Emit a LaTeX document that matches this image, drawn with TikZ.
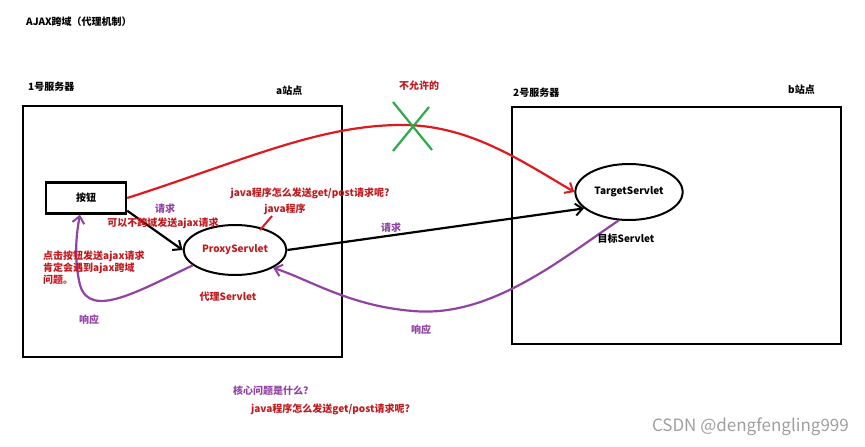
\documentclass[tikz,border=0pt]{standalone}
\usepackage{fontspec}
\setmainfont{Noto Sans CJK SC}
\usepackage{xcolor}
\usepackage{tikz}
\usetikzlibrary{arrows.meta,positioning,shapes.geometric}
\definecolor{redline}{HTML}{E0191F}
\definecolor{redtext}{HTML}{C01A1F}
\definecolor{purp}{HTML}{9143A3}
\definecolor{grn}{HTML}{2DAA4A}

\begin{document}
\begin{tikzpicture}[x=1pt,y=-1pt,font=\fontsize{10}{12}\selectfont\bfseries,
  server/.style={draw,line width=2pt},
  btn/.style={draw,line width=2.4pt,minimum width=80pt,minimum height=31pt},
  servlet/.style={draw,ellipse,line width=2pt},
  lbl/.style={inner sep=1pt},
  rlbl/.style={lbl,text=redtext},
  plbl/.style={lbl,text=purp},
  arr/.style={-{Straight Barb[length=7pt,width=12pt,line width=2pt]},line width=2.2pt}]
\useasboundingbox (0,0) rectangle (865,447);
% titles
\node[lbl,anchor=west] (title) at (25,22) {AJAX跨域（代理机制）};
\node[lbl,anchor=west] (srv1) at (27,87) {1号服务器};
\node[lbl,anchor=west] (siteA) at (275,91) {a站点};
\node[lbl,anchor=west] (srv2) at (512,93) {2号服务器};
\node[lbl,anchor=west] (siteB) at (787,90) {b站点};
% servers
\draw[server] (23,106) rectangle (342,357);
\draw[server] (512,107) rectangle (841,344);
% nodes
\node[btn] (button) at (86,198) {按钮};
\node[servlet,minimum width=102pt,minimum height=50pt,text=redtext] (proxy) at (235,250) {ProxyServlet};
\node[servlet,minimum width=104pt,minimum height=56pt] (target) at (629,192) {TargetServlet};
\coordinate (peak) at (405,125);
% red request (not allowed)
\draw[arr,redline] (button.east) .. controls (240,162) and (320,124) .. (peak)
  .. controls (470,126) and (520,160) .. (target.180);
\draw[grn,line width=2.2pt] (393,102) -- (432,150) (429,107) -- (393,151);
\node[rlbl] (noallow) at (419,86) {不允许的};
% black requests
\draw[arr] ([yshift=4pt]button.south east) -- (proxy.west);
\draw[arr] (proxy.east) -- (target.200);
% purple responses
\draw[arr,purp] (target.250) .. controls (560,260) and (490,318) .. (413,311)
  .. controls (350,306) and (310,280) .. (proxy.-25);
\draw[arr,purp] (proxy.200) .. controls (140,290) and (90,320) .. (80,285)
  .. controls (74,260) and (76,235) .. ([xshift=-6pt]button.south);
% labels
\node[plbl] (req1) at (165,209) {请求};
\node[rlbl] (noCross) at (163,223) {可以不跨域发送ajax请求};
\node[rlbl,align=left,anchor=west] (note) at (42,268) {点击按钮发送ajax请求\\肯定会遇到ajax跨域\\问题。};
\node[plbl] (resp1) at (89,320) {响应};
\node[rlbl] (jreq) at (310,193) {java程序怎么发送get/post请求呢?};
\node[rlbl] (jprog) at (285,209) {java程序};
\draw[redline,line width=2pt] (272,216) -- (260,230);
\node[rlbl] (proxyname) at (228,297) {代理Servlet};
\node[plbl] (req2) at (391,228) {请求};
\node[plbl] (resp2) at (421,330) {响应};
\node[lbl] (targetname) at (626,239) {目标Servlet};
\node[plbl,anchor=west] (core) at (232,391) {核心问题是什么?};
\node[rlbl,anchor=west] (coreq) at (250,409) {java程序怎么发送get/post请求呢?};
\node[lbl,anchor=east,text=gray!75,font=\fontsize{17}{19}\selectfont\mdseries] (mark) at (850,427) {CSDN @dengfengling999};
\end{tikzpicture}
\end{document}
